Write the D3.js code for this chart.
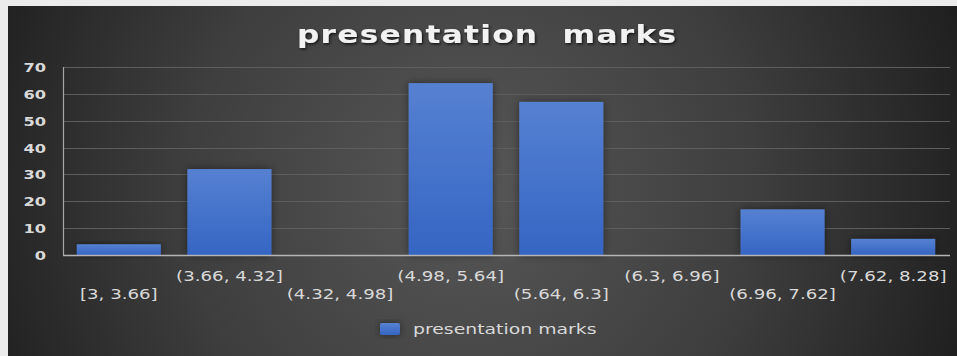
<!DOCTYPE html>
<html>
<head>
<meta charset="utf-8">
<script src="https://cdn.jsdelivr.net/npm/d3@7"></script>
<style>
  html, body { margin: 0; padding: 0; background: #ececec; }
  svg { display: block; }
  text { font-family: "DejaVu Sans", Verdana, sans-serif; }
</style>
</head>
<body>
<svg id="chart" width="957" height="356"></svg>
<script>
// Histogram of presentation marks: bin labels and counts
const categories = ["[3, 3.66]", "(3.66, 4.32]", "(4.32, 4.98]", "(4.98, 5.64]",
                    "(5.64, 6.3]", "(6.3, 6.96]", "(6.96, 7.62]", "(7.62, 8.28]"];
const counts = [4, 32, 0, 64, 57, 0, 17, 6];
const yTicks = [0, 10, 20, 30, 40, 50, 60, 70];
const seriesName = "presentation marks";
const chartTitle = "presentation  marks";

const W = 957, H = 356;
const svg = d3.select("#chart");
const defs = svg.append("defs");

// dark radial background, lighter toward the middle
const bg = defs.append("radialGradient").attr("id", "bgGrad")
  .attr("gradientUnits", "userSpaceOnUse")
  .attr("cx", 470).attr("cy", 190).attr("r", 520);
bg.append("stop").attr("offset", "0%").attr("stop-color", "#575757");
bg.append("stop").attr("offset", "55%").attr("stop-color", "#3e3e3e");
bg.append("stop").attr("offset", "100%").attr("stop-color", "#1f1f1f");

const barGrad = defs.append("linearGradient").attr("id", "barGrad")
  .attr("x1", 0).attr("y1", 0).attr("x2", 0).attr("y2", 1);
barGrad.append("stop").attr("offset", "0%").attr("stop-color", "#5681d2");
barGrad.append("stop").attr("offset", "100%").attr("stop-color", "#3565c3");

const shadow = defs.append("filter").attr("id", "barShadow")
  .attr("x", "-30%").attr("y", "-30%").attr("width", "160%").attr("height", "160%");
shadow.append("feDropShadow").attr("dx", 0).attr("dy", 0)
  .attr("stdDeviation", 4).attr("flood-color", "#000").attr("flood-opacity", 0.45);

const txtShadow = defs.append("filter").attr("id", "txtShadow")
  .attr("x", "-10%").attr("y", "-30%").attr("width", "120%").attr("height", "160%");
txtShadow.append("feDropShadow").attr("dx", 1).attr("dy", 1.5)
  .attr("stdDeviation", 1.2).attr("flood-color", "#000").attr("flood-opacity", 0.7);

svg.append("rect").attr("x", 8).attr("y", 6).attr("width", W - 8).attr("height", H - 6)
  .attr("fill", "url(#bgGrad)");

// scales
const x = d3.scaleBand().domain(categories).range([63.5, 948.5])
  .paddingInner(0.24).paddingOuter(0.12);
const y = d3.scaleLinear().domain([0, 70]).range([255, 67]);

const SX = 1.3; // horizontal stretch applied to all text

// gridlines
svg.append("g").selectAll("line").data(yTicks.filter(d => d > 0)).join("line")
  .attr("x1", 63.5).attr("x2", 950)
  .attr("y1", d => Math.round(y(d)) + 0.5).attr("y2", d => Math.round(y(d)) + 0.5)
  .attr("stroke", "#5e5e5e").attr("stroke-width", 1);

// y axis tick labels
const yAxis = d3.axisLeft(y).tickValues(yTicks).tickSize(0).tickPadding(0);
const yg = svg.append("g").attr("transform", "translate(46,0)").call(yAxis);
yg.select(".domain").remove();
yg.selectAll(".tick text")
  .attr("fill", "#d9d9d9").attr("font-size", 12.5).attr("font-weight", "bold")
  .attr("x", 0).attr("dy", "0.36em")
  .attr("transform", `scale(${SX},1)`)
  .attr("font-family", "DejaVu Sans, sans-serif");

// bars
svg.append("g").selectAll("rect").data(counts).join("rect")
  .attr("x", (d, i) => x(categories[i]))
  .attr("width", x.bandwidth())
  .attr("y", d => y(d))
  .attr("height", d => y(0) - y(d))
  .attr("fill", "url(#barGrad)")
  .attr("filter", "url(#barShadow)");

// axis lines
svg.append("line").attr("x1", 63.5).attr("x2", 63.5).attr("y1", 67).attr("y2", 255)
  .attr("stroke", "#a6a6a6").attr("stroke-width", 1.2);
svg.append("line").attr("x1", 63).attr("x2", 950).attr("y1", 255.5).attr("y2", 255.5)
  .attr("stroke", "#b5b5b5").attr("stroke-width", 1.5);

// x axis labels, staggered on two rows
const xAxis = d3.axisBottom(x).tickSize(0).tickPadding(0);
const xg = svg.append("g").attr("transform", "translate(0,0)").call(xAxis);
xg.select(".domain").remove();
xg.selectAll(".tick").attr("transform", d => {
  const i = categories.indexOf(d);
  const cx = x(d) + x.bandwidth() / 2;
  const cy = i % 2 === 1 ? 281 : 298.5;
  return `translate(${cx},${cy}) scale(${SX},1)`;
});
xg.selectAll(".tick text")
  .attr("y", 0).attr("dy", 0)
  .attr("fill", "#d9d9d9").attr("font-size", 14)
  .attr("font-family", "DejaVu Sans, sans-serif")
  .attr("text-anchor", "middle");

// title
svg.append("g").attr("transform", `translate(297,43) scale(${SX},1)`)
  .append("text")
  .attr("x", 0).attr("y", 0)
  .attr("font-size", 24).attr("font-weight", "bold")
  .attr("fill", "#f2f2f2")
  .attr("textLength", 379 / SX).attr("lengthAdjust", "spacing")
  .attr("filter", "url(#txtShadow)")
  .style("white-space", "pre")
  .text(chartTitle);

// legend
const lg = svg.append("g");
lg.append("rect").attr("x", 380).attr("y", 323).attr("width", 20).attr("height", 12)
  .attr("rx", 2).attr("fill", "url(#barGrad)").attr("filter", "url(#barShadow)");
lg.append("g").attr("transform", `translate(413,334) scale(${SX},1)`)
  .append("text").attr("font-size", 14.5).attr("fill", "#d9d9d9")
  .text(seriesName);
</script>
</body>
</html>
